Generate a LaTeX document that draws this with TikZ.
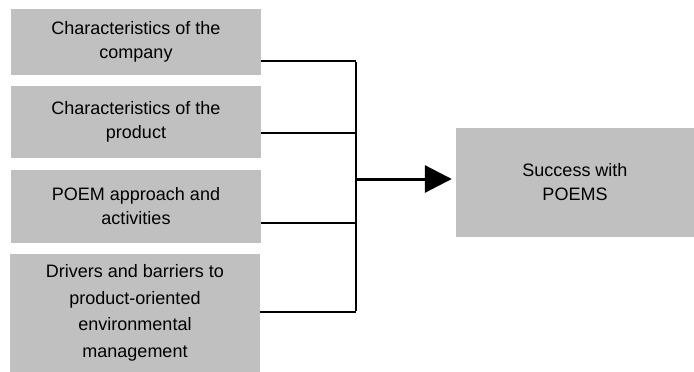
\documentclass[tikz,border=0pt]{standalone}
\usepackage{fontspec}
\setmainfont{Liberation Sans}
\usetikzlibrary{arrows.meta}
\definecolor{boxgrey}{HTML}{C0C0C0}
\begin{document}
\begin{tikzpicture}[x=1pt,y=-1pt,
  box/.style={fill=boxgrey, draw=none, inner sep=0pt, align=center,
    font=\fontsize{18}{24}\selectfont},
  conn/.style={line width=2pt, black},
  mainarrow/.style={line width=3pt, black, -{Triangle[length=27pt,width=27pt]}, shorten >=4pt}]
\useasboundingbox (0,0) rectangle (694,372);
\node[box, minimum width=250pt, minimum height=66pt] (c1) at (136,42) {Characteristics of the\\company};
\node[box, minimum width=250pt, minimum height=72pt] (c2) at (136,122) {Characteristics of the\\product};
\node[box, minimum width=250pt, minimum height=73pt] (c3) at (136,206.5) {POEM approach and\\activities};
\node[box, minimum width=250pt, minimum height=118pt, font=\fontsize{18}{26.5}\selectfont] (c4) at (135,313) {Drivers and barriers to\\product-oriented\\environmental\\management};
\node[box, minimum width=238pt, minimum height=109pt] (r) at (575,182.5) {Success with\\POEMS};
\coordinate (j1) at (356,61);
\coordinate (j2) at (356,133);
\coordinate (j3) at (356,223);
\coordinate (j4) at (356,312);
\coordinate (j) at (356,179);
\draw[conn] (c1.east |- j1) -- (j1);
\draw[conn] (c2.east |- j2) -- (j2);
\draw[conn] (c3.east |- j3) -- (j3);
\draw[conn] (c4.east |- j4) -- (j4);
\draw[conn] ([yshift=-1pt]j1) -- ([yshift=1pt]j4);
\draw[mainarrow] (j) -- (r.west |- j);
\end{tikzpicture}
\end{document}
